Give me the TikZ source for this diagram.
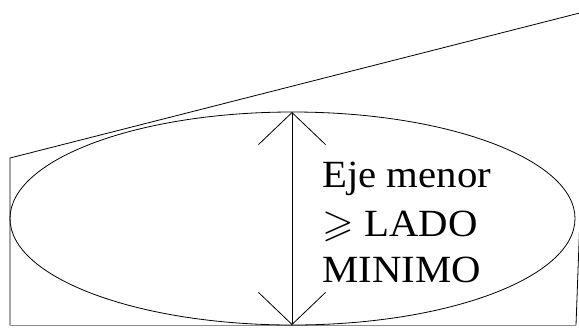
\documentclass[tikz,border=0pt]{standalone}
\usepackage{amssymb}
\usepackage{fontspec}
\setmainfont{Liberation Serif}
\usetikzlibrary{arrows.meta,shapes.geometric}
\tikzset{
  edge/.style={draw=black, line width=0.8bp},
  lbl/.style={anchor=base west, inner sep=0pt, font=\fontsize{38.5bp}{40bp}\selectfont},
  barbs/.style={{Straight Barb[length=32bp,width=67bp,line width=0.8bp]}-{Straight Barb[length=32bp,width=67bp,line width=0.8bp]}}
}
\begin{document}
\begin{tikzpicture}[x=1bp,y=-1bp]
\useasboundingbox (0,0) rectangle (579,327);
\clip (0,0) rectangle (579,327);
% outer quadrilateral
\coordinate (q1) at (10,158);
\coordinate (q2) at (587.5,11);
\coordinate (q3) at (576,325);
\coordinate (q4) at (10,325);
\draw[edge] (q4) -- (q1) -- (q2);
\draw[edge] (q2) -- (q3);
\draw[draw=black!45, line width=0.8bp] (q3) -- (q4);
% ellipse
\node[edge, ellipse, minimum width=565bp, minimum height=213bp, inner sep=0pt] (ell) at (292.5,218.5) {};
% minor axis
\coordinate (top) at (292,112);
\coordinate (bot) at (292,325);
\draw[edge, barbs] (top) -- (bot);
% text
\node[lbl] (t1) at (322,187) {\scalebox{1.06}[1]{Eje menor}};
\node[lbl] (t2) at (322,236) {\scalebox{1.06}[1]{$\geqslant$ LADO}};
\node[lbl] (t3) at (322,282) {\scalebox{1.06}[1]{MINIMO}};
\end{tikzpicture}
\end{document}
